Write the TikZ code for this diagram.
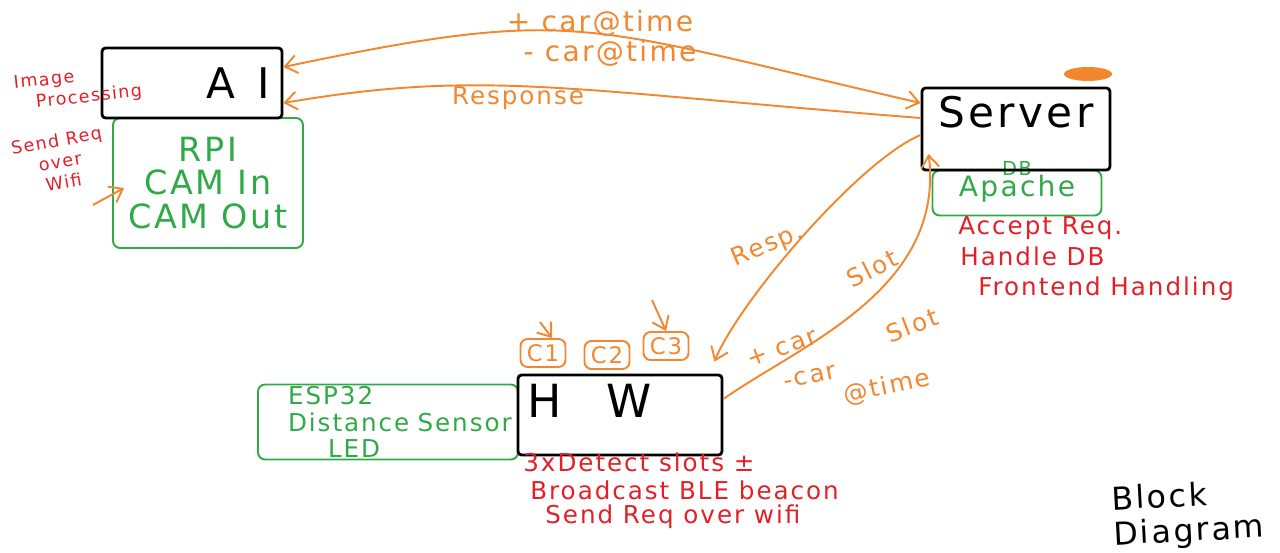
\documentclass[tikz,border=0pt]{standalone}
\usepackage{fontspec}
\setmainfont{DejaVu Sans}[LetterSpace=8]
\usepackage{xcolor}
\usetikzlibrary{positioning,arrows.meta,shapes.geometric}
\definecolor{sketchorange}{RGB}{242,135,48}
\definecolor{sketchgreen}{RGB}{48,170,72}
\definecolor{sketchred}{RGB}{226,32,40}

\begin{document}
\begin{tikzpicture}[x=0.02cm, y=-0.02cm, >={Straight Barb[length=2.4mm,width=3.6mm]},
  box/.style={draw, line width=1.6pt, rounded corners=2pt, inner sep=2pt},
  gbox/.style={draw=sketchgreen, line width=1.1pt, rounded corners=4pt, text=sketchgreen, inner sep=2pt},
  obox/.style={draw=sketchorange, line width=1.1pt, rounded corners=4pt, text=sketchorange, minimum width=0.9cm, minimum height=0.56cm, font=\fontsize{13}{13}\selectfont, inner sep=1pt},
  rtxt/.style={text=sketchred, inner sep=0pt, anchor=west, font=\fontsize{14}{14}\selectfont},
  otxt/.style={text=sketchorange, inner sep=0pt, font=\fontsize{14}{14}\selectfont},
  flow/.style={draw=sketchorange, line width=1.1pt}]
\useasboundingbox (0,0) rectangle (1280,553);

% camera unit
\node[gbox, minimum width=3.8cm, minimum height=2.6cm, align=center, font=\fontsize{19}{19}\selectfont] (rpi) at (208,183) {RPI\\CAM In\\CAM Out};
\node[box, minimum width=3.6cm, minimum height=1.4cm, text width=3.12cm, inner xsep=0.24cm, align=right, font=\fontsize{24}{24}\selectfont] (ai) at (192,83) {A\hspace{0.45cm}I};
\node[text=sketchred, rotate=6, align=left, inner sep=0pt, font=\fontsize{10}{12}\selectfont] (imgtxt) at (78,88) {Image\\\hspace*{0.4cm}Processing};
\node[text=sketchred, rotate=10, align=center, inner sep=0pt, font=\fontsize{10}{12}\selectfont] (wifitxt) at (60,161) {Send Req\\over\\Wifi};
\coordinate (rpiin) at (93,205);
\draw[flow,->] (rpiin) -- ([xshift=0.24cm,yshift=-0.1cm]rpi.west);

% server
\node[gbox, minimum width=3.38cm, minimum height=0.9cm, text height=0.25cm, text depth=0.1cm, font=\fontsize{16}{16}\selectfont,
  label={[anchor=center, inner sep=0pt, yshift=0.02cm, text=sketchgreen, font=\fontsize{11}{11}\selectfont]north:DB}] (db) at (1017,193) {Apache};
\node[box, minimum width=3.76cm, minimum height=1.64cm, inner ysep=0.1cm, text height=0.7cm, text depth=0.74cm, font=\fontsize{24}{24}\selectfont] (srv) at (1016,129) {Server};
\node[ellipse, fill=sketchorange, minimum width=0.96cm, minimum height=0.28cm, inner sep=0pt] (blob) at (1088,74) {};
\node[rtxt] (acc) at (958,228) {Accept Req.};
\node[rtxt] (hdb) at (960,256) {Handle DB};
\node[rtxt] (fend) at (978,289) {Frontend Handling};

% hardware unit
\node[gbox, minimum width=5.2cm, minimum height=1.5cm, text width=4.0cm, inner xsep=0.6cm, inner ysep=0pt, align=left, font=\fontsize{14}{15}\selectfont] (esp) at (388,422) {ESP32\\\mbox{Distance Sensor}\\\hspace*{0.8cm}LED};
\node[box, minimum width=4.08cm, minimum height=1.6cm, inner xsep=0.18cm, inner ysep=0.1cm, text width=3.72cm, align=left, text height=0.75cm, text depth=0.65cm, font=\fontsize{26}{26}\selectfont] (hw) at (620,415) {H\hspace{0.9cm}W};
\node[obox] (c1) at (543,353) {C1};
\node[obox] (c2) at (607,355) {C2};
\node[obox] (c3) at (666,346) {C3};
\coordinate (c1in) at (540,322);
\coordinate (c3in) at (652,300);
\draw[flow,->] (c1in) -- ([xshift=0.18cm]c1.north);
\draw[flow,->] (c3in) -- (c3.north);
\node[rtxt] (det) at (523,462) {3xDetect slots ±};
\node[rtxt] (ble) at (530,490) {Broadcast BLE beacon};
\node[rtxt] (sreq) at (545,517) {Send Req over wifi};

% links
\draw[flow,<->] ([yshift=0.32cm]ai.east) .. controls (580,5) and (580,25) .. ([yshift=0.52cm]srv.west);
\node[otxt, font=\fontsize{16}{16}\selectfont] (addt) at (600,23) {+ car@time};
\node[otxt, font=\fontsize{16}{16}\selectfont] (remt) at (610,53) {- car@time};
\draw[flow,->] ([yshift=0.22cm]srv.west) .. controls (565,90) and (483,69) .. ([yshift=-0.4cm]ai.east);
\node[otxt] (resp) at (518,98) {Response};
\draw[flow,->] ([yshift=-0.12cm]srv.west) .. controls (860,160) and (740,300) .. ([xshift=-0.18cm,yshift=0.24cm]hw.north east);
\node[otxt, rotate=23] (rsp) at (768,246) {Resp.};
\draw[flow,->] ([yshift=0.32cm]hw.east) .. controls (800,345) and (945,290) .. ([xshift=0.16cm,yshift=-0.5cm]srv.west);
\node[otxt, rotate=20] (addc) at (782,348) {+ car};
\node[otxt, rotate=27] (slota) at (872,268) {Slot};
\node[otxt, rotate=21] (slotb) at (912,325) {Slot};
\node[otxt, rotate=12] (remc) at (810,377) {-car};
\node[otxt, rotate=12] (remtm) at (887,387) {@time};

\node[align=left, rotate=3, font=\fontsize{18}{20}\selectfont] (title) at (1188,515) {Block\\Diagram};
\end{tikzpicture}
\end{document}
